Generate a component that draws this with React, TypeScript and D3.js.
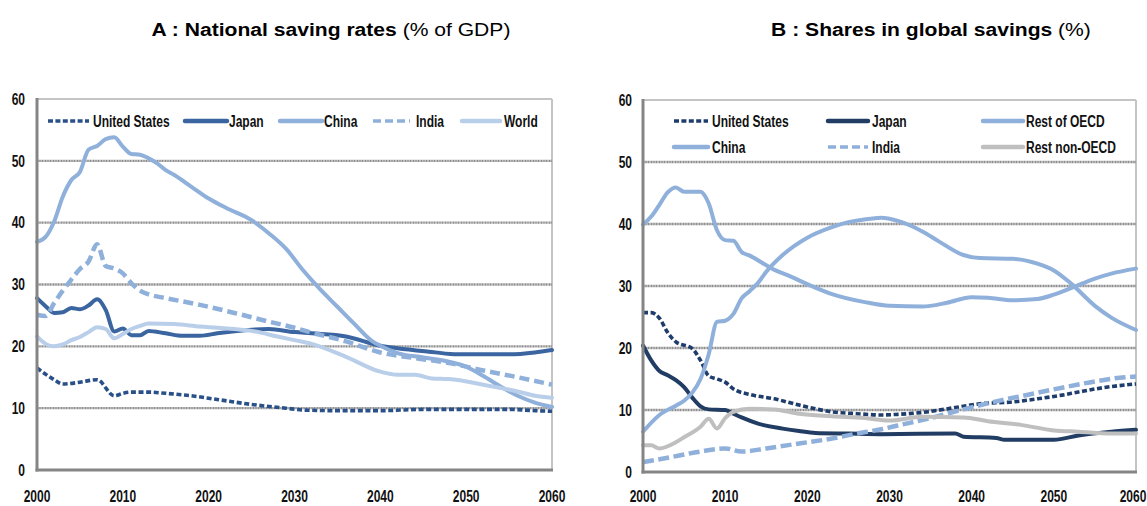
import React from "react";
import * as d3 from "d3";

type Pt = [number, number];

// ---------- Panel A : National saving rates (% of GDP) ----------
const A_US: Pt[] = [[2000,16.5],[2002,14.6],[2003,13.9],[2005,14.2],[2007,14.6],[2009,12.0],[2010,12.4],[2011,12.6],[2013,12.6],[2015,12.4],[2018,12.0],[2021,11.4],[2025,10.6],[2029,10.0],[2031,9.7],[2035,9.6],[2040,9.6],[2045,9.8],[2050,9.8],[2055,9.8],[2058,9.6],[2060,9.5]];
const A_JAPAN: Pt[] = [[2000,27.8],[2001,26.5],[2002,25.4],[2003,25.5],[2004,26.2],[2005,26.0],[2006,26.6],[2007,27.6],[2008,25.9],[2009,22.4],[2010,22.9],[2011,21.8],[2012,21.8],[2013,22.5],[2015,22.1],[2017,21.7],[2019,21.7],[2021,22.1],[2025,22.7],[2027,22.8],[2030,22.3],[2032,22.1],[2036,21.6],[2040,20.1],[2042,19.7],[2046,19.1],[2049,18.7],[2055,18.7],[2058,19.0],[2060,19.4]];
const A_CHINA: Pt[] = [[2000,36.9],[2001,37.7],[2002,40.2],[2003,44.2],[2004,46.9],[2005,48.2],[2006,51.8],[2007,52.4],[2008,53.5],[2009,53.8],[2010,52.3],[2011,51.1],[2012,51.0],[2013,50.4],[2014,49.6],[2015,48.5],[2016,47.7],[2018,45.8],[2020,43.9],[2022,42.4],[2025,40.4],[2027,38.3],[2029,35.8],[2031,32.3],[2033,29.2],[2035,26.4],[2037,23.6],[2039,20.9],[2040,20.1],[2042,18.9],[2045,18.2],[2048,17.5],[2050,16.7],[2052,15.2],[2054,13.5],[2056,12.0],[2058,10.9],[2060,10.2]];
const A_INDIA: Pt[] = [[2000,25.1],[2001,24.9],[2002,27.0],[2003,29.0],[2004,30.8],[2005,32.5],[2006,33.7],[2007,36.5],[2008,33.0],[2009,32.6],[2010,31.8],[2011,30.2],[2012,29.0],[2013,28.4],[2015,27.8],[2019,26.7],[2023,25.4],[2027,24.0],[2030,23.0],[2032,22.2],[2036,20.8],[2040,19.0],[2044,18.1],[2048,17.3],[2052,16.1],[2056,15.0],[2060,13.8]];
const A_WORLD: Pt[] = [[2000,21.6],[2001,20.4],[2002,20.0],[2003,20.3],[2004,21.0],[2005,21.5],[2006,22.3],[2007,23.1],[2008,22.8],[2009,21.3],[2010,22.0],[2011,22.8],[2012,23.3],[2013,23.7],[2016,23.6],[2019,23.2],[2021,23.0],[2025,22.5],[2028,21.6],[2030,21.0],[2032,20.4],[2036,18.3],[2040,15.9],[2042,15.4],[2044,15.4],[2046,14.8],[2048,14.7],[2052,13.8],[2056,12.7],[2058,12.0],[2060,11.7]];

// ---------- Panel B : Shares in global savings (%) ----------
const B_US: Pt[] = [[2000,25.7],[2001,25.7],[2002,24.8],[2003,22.5],[2004,21.0],[2006,19.9],[2007,18.0],[2008,15.5],[2009,15.0],[2010,14.5],[2011,13.4],[2013,12.5],[2016,11.8],[2019,10.8],[2023,9.7],[2026,9.4],[2029,9.2],[2031,9.3],[2034,9.6],[2038,10.4],[2041,11.0],[2045,11.3],[2048,11.8],[2051,12.4],[2053,12.9],[2056,13.6],[2060,14.2]];
const B_JAPAN: Pt[] = [[2000,20.4],[2001,18.0],[2002,16.3],[2003,15.6],[2004,14.8],[2005,13.7],[2006,12.0],[2007,10.6],[2008,10.1],[2010,10.0],[2011,9.4],[2012,8.8],[2014,7.8],[2017,7.0],[2019,6.6],[2021,6.3],[2025,6.2],[2029,6.1],[2038,6.2],[2039,5.7],[2043,5.5],[2044,5.2],[2050,5.2],[2053,5.9],[2057,6.5],[2060,6.8]];
const B_REST_OECD: Pt[] = [[2000,39.9],[2001,41.2],[2002,43.1],[2003,45.1],[2004,45.9],[2005,45.2],[2007,45.2],[2008,43.3],[2009,39.0],[2010,37.4],[2011,37.3],[2012,35.5],[2013,34.9],[2016,32.6],[2018,31.5],[2020,30.3],[2023,28.7],[2027,27.4],[2030,26.8],[2034,26.7],[2037,27.3],[2040,28.2],[2042,28.1],[2045,27.7],[2048,27.9],[2050,28.6],[2052,29.6],[2055,31.2],[2057,32.0],[2060,32.8]];
const B_CHINA: Pt[] = [[2000,6.5],[2002,9.2],[2004,10.7],[2005,11.5],[2006,12.8],[2007,15.0],[2008,19.0],[2009,24.2],[2010,24.4],[2011,25.5],[2012,28.0],[2013,29.2],[2014,30.5],[2015,32.3],[2017,35.0],[2020,37.8],[2023,39.5],[2025,40.3],[2028,40.9],[2029,41.0],[2031,40.5],[2034,38.8],[2036,37.2],[2039,35.0],[2041,34.5],[2045,34.4],[2048,33.6],[2050,32.5],[2052,30.5],[2055,26.8],[2057,24.9],[2060,22.9]];
const B_INDIA: Pt[] = [[2000,1.6],[2003,2.3],[2007,3.3],[2010,3.8],[2012,3.3],[2015,3.8],[2019,4.6],[2023,5.4],[2026,6.2],[2029,6.9],[2031,7.5],[2035,8.7],[2039,10.1],[2043,11.4],[2047,12.5],[2051,13.6],[2055,14.6],[2058,15.2],[2060,15.4]];
const B_REST_NON_OECD: Pt[] = [[2000,4.3],[2001,4.3],[2002,3.8],[2004,4.8],[2005,5.6],[2007,7.3],[2008,8.6],[2009,7.0],[2010,8.7],[2011,9.7],[2013,10.2],[2016,10.1],[2019,9.4],[2023,9.0],[2027,8.7],[2030,8.3],[2034,8.9],[2039,8.8],[2042,8.2],[2046,7.6],[2050,6.7],[2053,6.5],[2057,6.2],[2060,6.2]];

const Y_TICKS = [0, 10, 20, 30, 40, 50, 60];
const X_TICKS = [2000, 2010, 2020, 2030, 2040, 2050, 2060];

type Series = { name: string; data: Pt[]; color: string; width: number; dash?: string };

const SERIES_A: Series[] = [
  { name: "United States", data: A_US, color: "#2A5089", width: 3.6, dash: "5,2.6" },
  { name: "Japan", data: A_JAPAN, color: "#3A65A0", width: 4 },
  { name: "China", data: A_CHINA, color: "#8FB0DA", width: 4 },
  { name: "India", data: A_INDIA, color: "#8FB0DA", width: 4.5, dash: "10,5" },
  { name: "World", data: A_WORLD, color: "#B9CEE9", width: 4 },
];
const SERIES_B: Series[] = [
  { name: "United States", data: B_US, color: "#1F3D6C", width: 3.6, dash: "5,2.6" },
  { name: "Japan", data: B_JAPAN, color: "#223D63", width: 4 },
  { name: "Rest of OECD", data: B_REST_OECD, color: "#8FB0DA", width: 4 },
  { name: "China", data: B_CHINA, color: "#8FB0DA", width: 4 },
  { name: "India", data: B_INDIA, color: "#8FB0DA", width: 4.5, dash: "11,4.5" },
  { name: "Rest non-OECD", data: B_REST_NON_OECD, color: "#BFBFBF", width: 4 },
];

const SANS = "'Liberation Sans', Arial, sans-serif";
const NARROW_SCALE = 0.75;
const LABEL_SIZE = 16;

type LegendItem = { idx: number; x0: number; x1: number; tx: number; y: number };

const LEGEND_A: LegendItem[] = [
  { idx: 0, x0: 48, x1: 89, tx: 93, y: 121 },
  { idx: 1, x0: 185, x1: 227, tx: 229, y: 121 },
  { idx: 2, x0: 280, x1: 322, tx: 324, y: 121 },
  { idx: 3, x0: 373, x1: 410, tx: 416, y: 121 },
  { idx: 4, x0: 462, x1: 500, tx: 504, y: 121 },
];
const LEGEND_B: LegendItem[] = [
  { idx: 0, x0: 674, x1: 708, tx: 712, y: 121 },
  { idx: 1, x0: 828, x1: 868, tx: 872, y: 121 },
  { idx: 2, x0: 983, x1: 1023, tx: 1026, y: 121 },
  { idx: 3, x0: 674, x1: 708, tx: 712, y: 147 },
  { idx: 4, x0: 828, x1: 868, tx: 872, y: 147 },
  { idx: 5, x0: 983, x1: 1023, tx: 1026, y: 147 },
];

function NText(props: { x: number; y: number; anchor?: "start" | "middle" | "end"; dy?: string; children: React.ReactNode }) {
  return (
    <text transform={`translate(${props.x},${props.y}) scale(${NARROW_SCALE},1)`} dy={props.dy}
      textAnchor={props.anchor || "start"} fontFamily={SANS} fontWeight="bold" fontSize={LABEL_SIZE} fill="#111">
      {props.children}
    </text>
  );
}

function Panel(props: {
  left: number; right: number; top: number; bottom: number;
  series: Series[]; legend: LegendItem[]; labelRight: number;
}) {
  const { left, right, top, bottom, series, legend, labelRight } = props;
  const x = d3.scaleLinear().domain([2000, 2060]).range([left, right]);
  const y = d3.scaleLinear().domain([0, 60]).range([bottom, top]);
  const line = d3.line<Pt>().x((d) => x(d[0])).y((d) => y(d[1])).curve(d3.curveMonotoneX);
  return (
    <g>
      <line x1={left} x2={right} y1={y(60)} y2={y(60)} stroke="#C4C4C4" strokeWidth={2} />
      <line x1={right} x2={right} y1={y(60)} y2={y(0)} stroke="#C4C4C4" strokeWidth={2} />
      {Y_TICKS.filter((t) => t > 0 && t < 60).map((t) => (
        <line key={t} x1={left} x2={right} y1={y(t)} y2={y(t)} stroke="#8E8E8E" strokeWidth={2.4} strokeDasharray="1.2,0.4" />
      ))}
      {series.map((s) => (
        <path key={s.name} d={line(s.data) || ""} fill="none" stroke={s.color} strokeWidth={s.width}
          strokeDasharray={s.dash} strokeLinejoin="round" strokeLinecap={s.dash ? "butt" : "round"} />
      ))}
      <line x1={left} x2={left} y1={y(60) - 1} y2={y(0) + 1.5} stroke="#858585" strokeWidth={3} />
      <line x1={left - 1.5} x2={right + 1} y1={y(0)} y2={y(0)} stroke="#858585" strokeWidth={3} />
      {Y_TICKS.map((t) => (
        <NText key={t} x={labelRight} y={y(t)} dy="0.36em" anchor="end">{t}</NText>
      ))}
      {X_TICKS.map((t) => (
        <NText key={t} x={Math.min(x(t), 1133)} y={502} anchor="middle">{t}</NText>
      ))}
      {legend.map((l) => {
        const s = series[l.idx];
        return (
          <g key={s.name}>
            <line x1={l.x0} x2={l.x1} y1={l.y} y2={l.y} stroke={s.color} strokeWidth={s.dash ? 3.6 : 4.5}
              strokeDasharray={s.dash ? (s.name === "India" ? "8,4" : "5,2.4") : undefined}
              strokeLinecap={s.dash ? "butt" : "round"} />
            <NText x={l.tx} y={l.y} dy="0.36em">{s.name}</NText>
          </g>
        );
      })}
    </g>
  );
}

export default function App() {
  return (
    <svg width={1147} height={506} style={{ position: "absolute", left: 0, top: 0, background: "#fff" }}>
      <rect x={0} y={0} width={1147} height={506} fill="#fff" />
      <text transform="translate(331,36) scale(1.11,1)" textAnchor="middle" fontFamily={SANS} fontSize={19} fill="#000">
        <tspan fontWeight="bold">A : National saving rates</tspan>
        <tspan> (% of GDP)</tspan>
      </text>
      <text transform="translate(931,36) scale(1.11,1)" textAnchor="middle" fontFamily={SANS} fontSize={19} fill="#000">
        <tspan fontWeight="bold">B : Shares in global savings</tspan>
        <tspan> (%)</tspan>
      </text>
      <Panel left={37} right={552} top={99} bottom={470} series={SERIES_A} legend={LEGEND_A} labelRight={25} />
      <Panel left={643} right={1136} top={100} bottom={472} series={SERIES_B} legend={LEGEND_B} labelRight={632} />
    </svg>
  );
}
